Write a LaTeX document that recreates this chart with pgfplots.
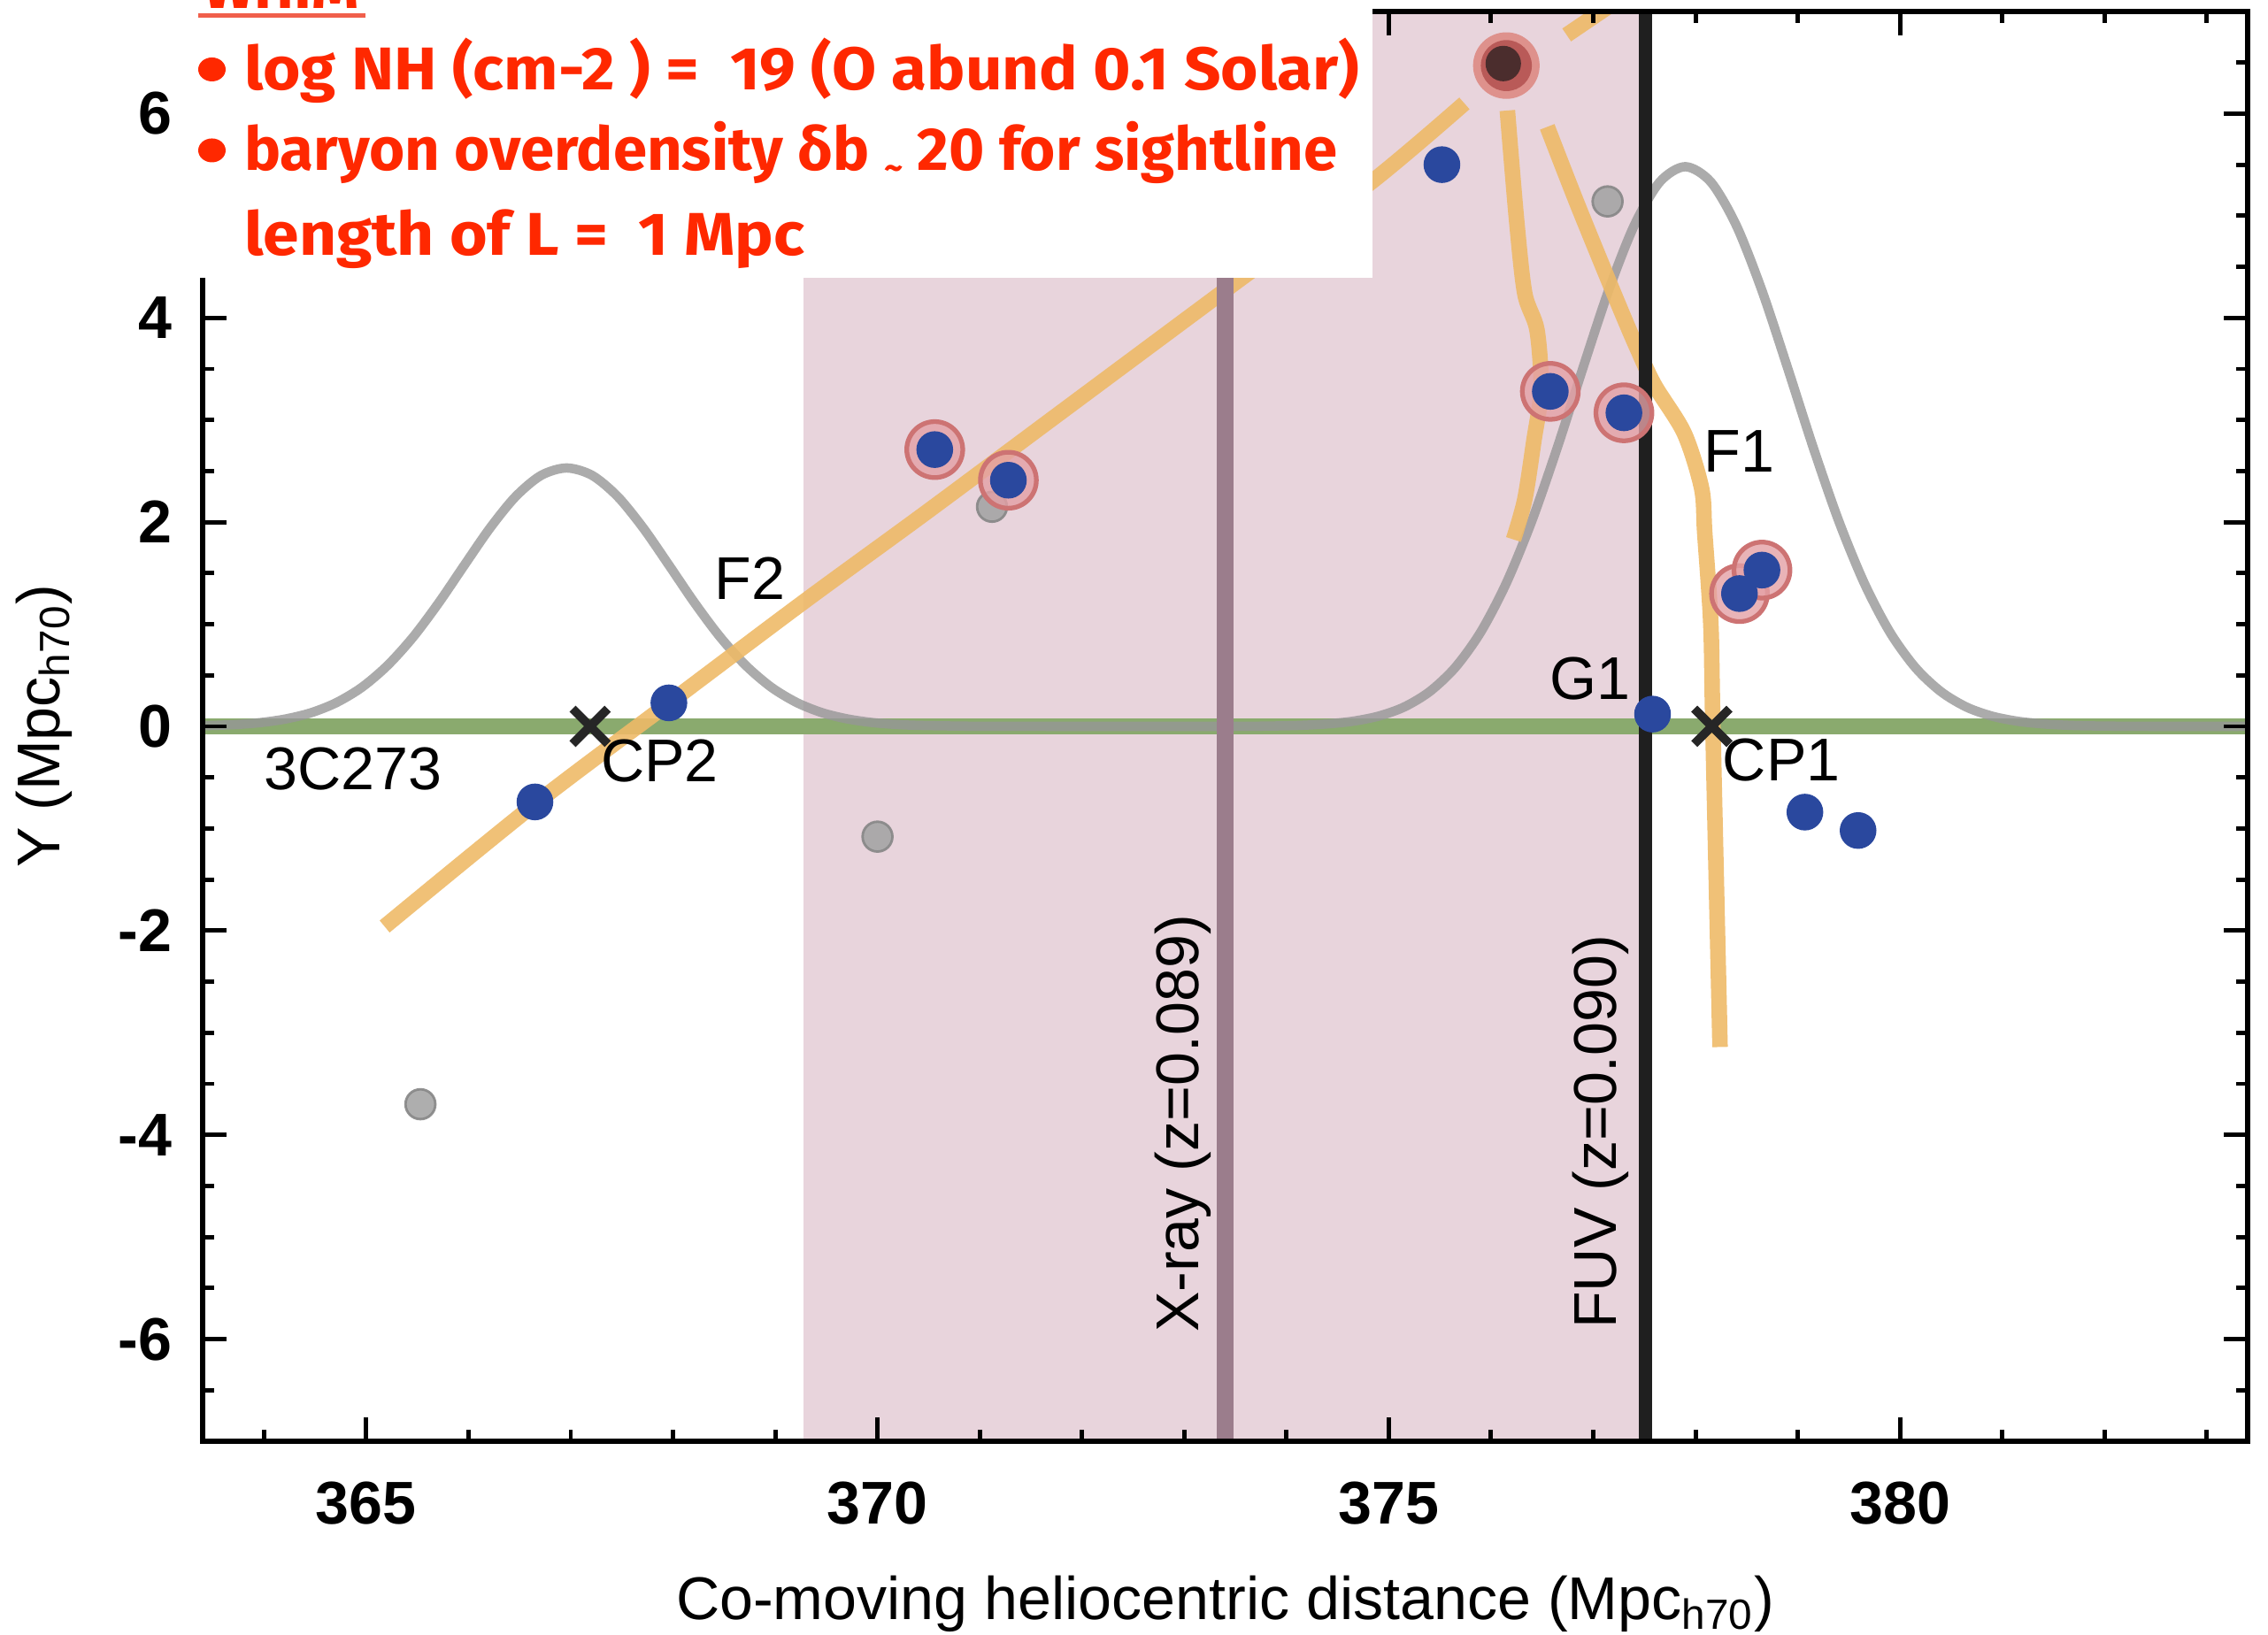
\documentclass[border=0pt]{standalone}
\usepackage{fontspec}
\setmainfont{Liberation Sans}
\newfontfamily\redfont{Fira Sans}
\usepackage{graphicx}
\usepackage{pgfplots}
\pgfplotsset{compat=1.18}
\definecolor{pinkc}{RGB}{232,212,220}
\definecolor{xrayc}{RGB}{155,125,140}
\definecolor{greenc}{RGB}{138,170,110}
\definecolor{orangec}{RGB}{238,186,104}
\definecolor{bluec}{RGB}{42,72,158}
\definecolor{grayc}{RGB}{150,150,150}
\definecolor{dotgray}{RGB}{165,165,165}
\definecolor{dotedge}{RGB}{135,135,135}
\definecolor{haloc}{RGB}{228,160,165}
\definecolor{haloedge}{RGB}{205,115,115}
\definecolor{bigouter}{RGB}{222,145,140}
\definecolor{bigmid}{RGB}{185,90,88}
\definecolor{bigcore}{RGB}{75,45,45}
\definecolor{redtext}{RGB}{255,40,0}
\definecolor{underc}{RGB}{240,95,75}
\newcommand{\fs}{\fontsize{19.4}{23}\selectfont}

\begin{document}
\begin{tikzpicture}
\begin{axis}[
  at={(0,0)}, anchor=south west,
  scale only axis, width=23.11cm, height=16.16cm,
  xmin=363.4, xmax=383.4, ymin=-7, ymax=7,
  xtick={365,370,375,380}, xticklabels={365,370,375,380},
  ytick={-6,-4,-2,0,2,4,6}, yticklabels={-6,-4,-2,0,2,4,6},
  minor xtick={364,366,367,368,369,371,372,373,374,376,377,378,379,381,382,383},
  minor ytick={-6.5,-5.5,-5,-4.5,-3.5,-3,-2.5,-1.5,-1,-0.5,0.5,1,1.5,2.5,3,3.5,4.5,5,5.5,6.5},
  tick align=inside,
  major tick length=0.27cm, minor tick length=0.13cm,
  every tick/.append style={line width=1.4pt, black},
  axis line style={line width=1.6pt},
  axis on top,
  tick label style={font=\fs\bfseries},
  yticklabel style={xshift=-0.22cm},
  xticklabel style={yshift=-0.33cm},
  label style={font=\fs},
  xlabel={Co-moving heliocentric distance (Mpc\textsubscript{h70})},
  ylabel={Y (Mpc\textsubscript{h70})},
  xlabel style={at={(axis description cs:0.5,-0.1245)}, anchor=base},
  ylabel style={at={(axis description cs:-0.0697,0.5)}, anchor=base},
]
% shaded region
\addplot[draw=none, fill=pinkc] coordinates {(369.28,-7.5) (377.51,-7.5) (377.51,7.5) (369.28,7.5)} -- cycle;
% sightline
\addplot[greenc, line width=5pt] coordinates {(363.4,0) (383.4,0)};
% density profiles F2 and F1
\addplot[grayc, opacity=0.8, line width=3pt, smooth] coordinates {
(363.4,0.006) (363.71,0.017) (363.96,0.036) (364.21,0.072) (364.46,0.133) (364.71,0.233)
(364.96,0.384) (365.21,0.598) (365.46,0.876) (365.71,1.211) (365.96,1.579) (366.21,1.941)
(366.46,2.249) (366.71,2.457) (366.96,2.530) (367.21,2.457) (367.46,2.249) (367.71,1.941)
(367.96,1.579) (368.21,1.211) (368.46,0.876) (368.71,0.598) (368.96,0.384) (369.21,0.233)
(369.46,0.133) (369.71,0.072) (369.96,0.036) (370.21,0.017) (370.46,0.008) (370.96,0.001)
(371.5,0) (373.4,0) (373.9,0.004) (374.15,0.010) (374.4,0.024) (374.65,0.050) (374.9,0.100)
(375.15,0.189) (375.4,0.340) (375.65,0.576) (375.9,0.924) (376.15,1.403) (376.4,2.013)
(376.65,2.734) (376.9,3.512) (377.15,4.267) (377.4,4.903) (377.65,5.330) (377.9,5.480)
(378.15,5.330) (378.4,4.903) (378.65,4.267) (378.9,3.512) (379.15,2.734) (379.4,2.013)
(379.65,1.403) (379.9,0.924) (380.15,0.576) (380.4,0.340) (380.65,0.189) (380.9,0.100)
(381.15,0.050) (381.4,0.024) (381.65,0.010) (381.9,0.004) (382.4,0) (383.4,0)};
% filaments
\addplot[orangec, opacity=0.9, line width=5pt, smooth] coordinates {
(365.18,-1.96) (366.65,-0.76) (367.99,0.25) (369.28,1.22) (370.47,2.09) (371.8,3.08)
(373.44,4.30) (374.83,5.33) (375.74,6.10)};
\addplot[orangec, opacity=0.9, line width=5pt] coordinates {(376.74,6.77) (377.3,7.15)};
\addplot[orangec, opacity=0.9, line width=5pt, smooth] coordinates {
(376.16,6.03) (376.25,4.96) (376.33,4.24) (376.45,3.88) (376.49,3.30) (376.42,2.80)
(376.33,2.22) (376.22,1.83)};
\addplot[orangec, opacity=0.9, line width=5pt, smooth] coordinates {
(376.55,5.87) (376.85,5.10) (377.23,4.17) (377.43,3.70) (377.60,3.34) (377.89,2.87)
(378.06,2.33) (378.09,1.90) (378.15,1.00) (378.17,0) (378.24,-3.14)};
% gray galaxies
\addplot[only marks, mark=*, mark size=4.8pt, mark options={fill=dotgray, draw=dotedge, line width=0.8pt, opacity=0.9}] coordinates {
(371.12,2.15) (377.14,5.14) (370.0,-1.08) (365.53,-3.70)};
% halos
\addplot[only marks, mark=*, mark size=9pt, mark options={fill=haloc, draw=haloedge, line width=1.5pt, fill opacity=0.8}] coordinates {
(370.56,2.71) (371.28,2.41) (376.58,3.28) (377.30,3.07) (378.43,1.30) (378.65,1.53)};
% big circle
\addplot[only marks, mark=*, mark size=10.5pt, mark options={fill=bigouter, draw=bigouter}] coordinates {(376.15,6.47)};
\addplot[only marks, mark=*, mark size=8pt, mark options={fill=bigmid, draw=bigmid}] coordinates {(376.15,6.47)};
\addplot[only marks, mark=*, mark size=5.5pt, mark options={fill=bigcore, draw=bigcore}] coordinates {(376.12,6.49)};
% blue galaxies
\addplot[only marks, mark=*, mark size=5.7pt, mark options={fill=bluec, draw=bluec}] coordinates {
(366.65,-0.74) (367.96,0.23) (370.56,2.71) (371.28,2.41) (375.52,5.50) (376.58,3.28)
(377.30,3.07) (377.58,0.12) (378.43,1.30) (378.65,1.53) (379.07,-0.84) (379.59,-1.02)};
% redshift lines
\addplot[xrayc, line width=5.5pt] coordinates {(373.40,-7.5) (373.40,7.5)};
\addplot[black!88, line width=4.3pt] coordinates {(377.51,-7.5) (377.51,7.5)};
% crossing points
\addplot[only marks, mark=x, mark size=8pt, mark options={line width=2.8pt, color=black!85}] coordinates {(367.19,0) (378.16,0)};
% labels
\node[font=\fs] at (axis cs:364.87,-0.42) {3C273};
\node[font=\fs] at (axis cs:367.87,-0.34) {CP2};
\node[font=\fs] at (axis cs:378.84,-0.33) {CP1};
\node[font=\fs] at (axis cs:368.75,1.45) {F2};
\node[font=\fs] at (axis cs:378.43,2.69) {F1};
\node[font=\fs] at (axis cs:376.97,0.47) {G1};
\node[font=\fs, rotate=90] at (axis cs:372.99,-3.89) {X-ray (z=0.089)};
\node[font=\fs, rotate=90] at (axis cs:377.07,-3.97) {FUV (z=0.090)};
\end{axis}
% white annotation box
\fill[white] (-0.29,13.15) rectangle (13.22,16.8);
\node[anchor=base west, inner sep=0, text=redtext] at (0.01,16.19) {\resizebox{1.75cm}{\height}{\redfont\bfseries\fs WHIM}};
\draw[underc, line width=0.05cm] (-0.05,16.11) -- (1.84,16.11);
\fill[redtext] (0.105,15.505) ellipse (0.155 and 0.135);
\fill[redtext] (0.105,14.59) ellipse (0.155 and 0.135);
\node[anchor=base west, inner sep=0, text=redtext] at (0.465,15.273) {\resizebox{12.60cm}{\height}{\redfont\bfseries\fs log NH (cm-2 ) =\ \ 19 (O abund 0.1 Solar)}};
\node[anchor=base west, inner sep=0, text=redtext] at (0.465,14.363) {\resizebox{12.35cm}{\height}{\redfont\bfseries\fs baryon overdensity δb \raisebox{-0.3ex}{\scalebox{0.6}{\textasciitilde}} 20 for sightline}};
\node[anchor=base west, inner sep=0, text=redtext] at (0.465,13.407) {\resizebox{6.33cm}{\height}{\redfont\bfseries\fs length of L =\ \ 1 Mpc}};
\pgfresetboundingbox
\path[use as bounding box] (-2.29,-2.19) rectangle (23.34,16.29);
\end{tikzpicture}
\end{document}
